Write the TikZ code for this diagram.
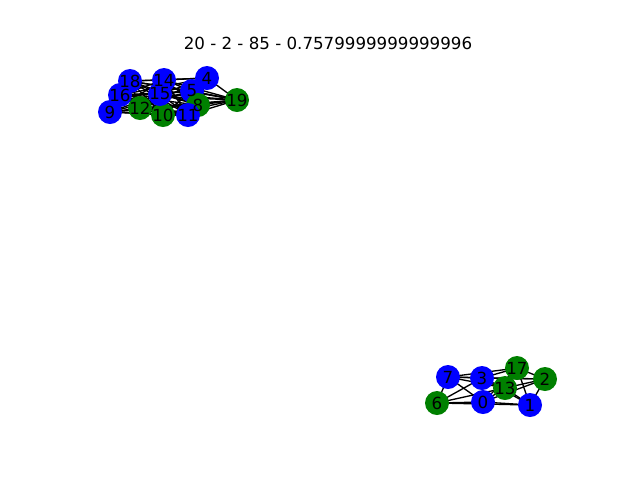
\documentclass[tikz,border=0pt]{standalone}
\usepackage{fontspec}
\setmainfont{DejaVu Sans}
\usetikzlibrary{calc}
\definecolor{nblue}{HTML}{0000FF}
\definecolor{ngreen}{HTML}{008000}
\tikzset{
    vtx/.style={circle, minimum size=18pt, inner sep=0pt},
    bvtx/.style={vtx, fill=nblue},
    gvtx/.style={vtx, fill=ngreen},
    vlabel/.style={inner sep=0pt, font=\fontsize{12.5}{14}\selectfont},
    edge/.style={line width=1pt, black}
}
\begin{document}
\begin{tikzpicture}[x=0.75pt, y=-0.75pt]
        \useasboundingbox (0,0) rectangle (640,480);
        \node[font=\fontsize{12.5}{14}\selectfont] (title) at (328,43) {20 - 2 - 85 - 0.7579999999999996};

        % first group
        \coordinate (p4) at (207,78);
        \coordinate (p5) at (192,91);
        \coordinate (p8) at (198,105);
        \coordinate (p9) at (110,112);
        \coordinate (p10) at (163,115);
        \coordinate (p11) at (188,115);
        \coordinate (p12) at (140,108);
        \coordinate (p14) at (164,80);
        \coordinate (p15) at (160,94);
        \coordinate (p16) at (120,95);
        \coordinate (p18) at (130,81);
        \coordinate (p19) at (237,100);
        % second group
        \coordinate (p0) at (483,402);
        \coordinate (p1) at (530,405);
        \coordinate (p2) at (545,379);
        \coordinate (p3) at (482,378);
        \coordinate (p6) at (437,403);
        \coordinate (p7) at (448,377);
        \coordinate (p13) at (505,388);
        \coordinate (p17) at (517,368);

        \foreach \a/\b in {4/5,4/8,4/14,4/15,4/18,4/19,4/10,4/11,4/12,4/16,
                5/8,5/9,5/10,5/11,5/12,5/14,5/15,5/16,5/18,5/19,
                8/9,8/10,8/11,8/12,8/14,8/15,8/16,8/18,8/19,
                9/10,9/11,9/12,9/14,9/15,9/16,9/18,9/19,
                10/11,10/12,10/14,10/15,10/16,10/18,10/19,
                11/12,11/14,11/15,11/16,11/18,11/19,
                12/14,12/15,12/16,12/18,12/19,
                14/15,14/16,14/18,14/19,15/16,15/18,15/19,16/18,16/19,18/19,
                7/6,7/3,7/0,7/17,7/13,7/2,6/3,6/0,6/13,6/1,
                3/0,3/17,3/2,3/13,3/1,0/13,0/1,0/2,0/17,
                17/2,17/13,17/1,13/2,13/1,2/1}
            \draw[edge] (p\a) -- (p\b);

        \foreach \i/\c in {0/bvtx,1/bvtx,2/gvtx,3/bvtx,4/bvtx,5/bvtx,6/gvtx,7/bvtx,8/gvtx,9/bvtx,
                10/gvtx,11/bvtx,12/gvtx,13/gvtx,14/bvtx,15/bvtx,16/bvtx,17/gvtx,18/bvtx,19/gvtx}
            \node[\c] (n\i) at (p\i) {};
        % labels on top of all circles
        \foreach \i in {0,...,19}
            \node[vlabel] (l\i) at (n\i) {\i};
\end{tikzpicture}
\end{document}
